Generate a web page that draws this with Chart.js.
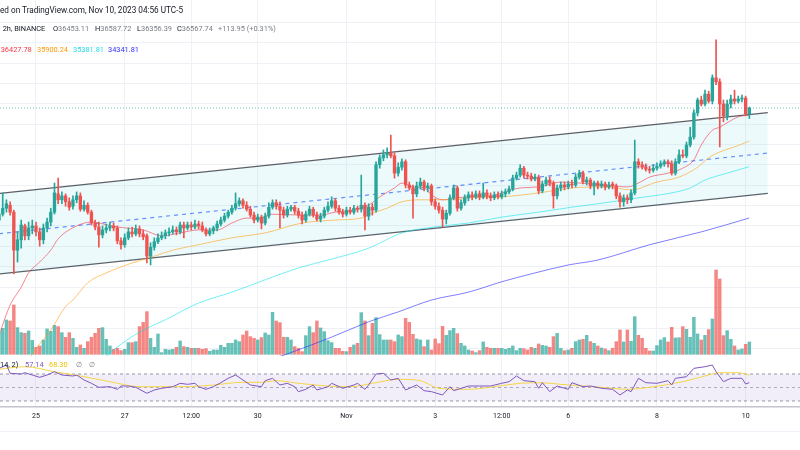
<!DOCTYPE html>
<html>
<head>
<meta charset="utf-8">
<script src="https://cdn.jsdelivr.net/npm/chart.js@4.4.0/dist/chart.umd.min.js"></script>
<style>
  body { margin: 0; background: #fff; width: 800px; height: 450px; overflow: hidden; position: relative; font-family: Roboto, sans-serif; }
  canvas { position: absolute; left: 0; }
  .t { position: absolute; white-space: nowrap; line-height: 1; color: #131722; font-size: 7.4px; }
  .v { color: #7a7d87; }
  .hr { position: absolute; left: 0; width: 800px; height: 1px; background: #f0f3fa; }
</style>
</head>
<body>
<canvas id="main" width="800" height="356" style="top:0"></canvas>
<canvas id="rsi" width="800" height="94" style="top:356px"></canvas>
<div class="hr" style="top:431px"></div>

<div class="t" style="left:0;top:6px;font-size:8.2px">ed on TradingView.com, Nov 10, 2023 04:56 UTC-5</div>
<div class="t" style="left:2.7px;top:24.7px">2h, BINANCE</div>
<div class="t" style="left:53px;top:24.7px">O<span class="v">36453.11</span></div>
<div class="t" style="left:95px;top:24.7px">H<span class="v">36587.72</span></div>
<div class="t" style="left:137px;top:24.7px">L<span class="v">36356.39</span></div>
<div class="t" style="left:177px;top:24.7px">C<span class="v">36567.74</span></div>
<div class="t v" style="left:218px;top:24.7px">+113.95 (+0.31%)</div>
<div class="t" style="left:0.7px;top:46.4px;color:#f23645">36427.78</div>
<div class="t" style="left:37px;top:46.4px;color:#ff9800">35900.24</div>
<div class="t" style="left:73px;top:46.4px;color:#22dbe6">35381.81</div>
<div class="t" style="left:108px;top:46.4px;color:#2e2eff">34341.81</div>
<div class="t" style="left:0;top:361.4px">14, 2)</div>
<div class="t" style="left:25px;top:361.4px;color:#7e57c2">57.14</div>
<div class="t" style="left:49px;top:361.4px;color:#f2c200">68.30</div>
<div class="t v" style="left:76px;top:361.4px">∅</div>
<div class="t v" style="left:89px;top:361.4px">∅</div>

<script>
// BTCUSDT 2h candles, Oct 24 -> Nov 10 2023
const opens = [34300,34420,34540,34600,34460,33690,33900,34180,33980,34140,
  34180,34060,33900,34140,34260,34460,34830,34710,34790,34670,
  34580,34710,34790,34520,34600,34460,34240,34160,34000,34100,
  34140,34180,34140,33880,33800,33940,34060,34020,34120,34020,
  33980,33570,33750,33860,33940,33980,34040,34060,34100,34060,
  34200,34140,34200,34160,34220,34180,34100,34020,34080,34140,
  34220,34300,34380,34460,34540,34630,34690,34600,34520,34400,
  34300,34360,34240,34380,34560,34650,34580,34500,34400,34520,
  34560,34480,34400,34300,34420,34520,34400,34320,34380,34500,
  34580,34690,34540,34460,34420,34500,34460,34540,34520,34600,
  34380,34560,34500,35420,35560,35620,35660,35600,35250,35370,
  35480,35010,34950,34830,34990,35070,34950,34990,34670,34580,
  34500,34320,34440,34750,34950,34540,34650,34750,34810,34770,
  34830,34770,34850,34790,34750,34810,34770,34830,34870,34930,
  35150,35210,35350,35210,35190,35130,35170,34890,35030,35110,
  35050,34790,34950,35010,34970,35030,35010,35170,35250,35070,
  35110,34990,35050,34990,35030,34970,35030,34990,34790,34670,
  34750,34710,34850,35480,35420,35370,35330,35310,35350,35390,
  35440,35480,35440,35250,35480,35620,35600,35820,35980,36470,
  36730,36650,36850,36710,37180,37100,36650,36410,36650,36750,
  36710,36750,36770,36453.11];
const highs = [34500,34850,34710,34670,34500,34060,34300,34220,34260,34300,
  34260,34140,34220,34340,34540,35050,35150,34870,34830,34750,
  34790,34870,34850,34690,34650,34500,34300,34260,34180,34220,
  34260,34240,34180,33940,34020,34140,34160,34200,34180,34100,
  34020,33840,33940,34020,34060,34100,34140,34180,34160,34260,
  34260,34260,34260,34300,34280,34260,34140,34140,34180,34280,
  34360,34440,34500,34600,34850,34750,34730,34670,34580,34460,
  34420,34400,34440,34650,34710,34710,34670,34560,34580,34600,
  34600,34540,34460,34480,34580,34560,34460,34440,34560,34670,
  34770,34730,34600,34520,34560,34560,34600,34580,35210,34650,
  34630,34630,35480,35620,35720,35760,36020,35660,35460,35540,
  35520,35070,35010,35070,35150,35110,35050,35030,34730,34650,
  34560,34500,34810,35010,34990,34710,34810,34870,34870,34890,
  34890,35050,34910,34850,34870,34870,34890,34930,34990,35210,
  35270,35420,35390,35270,35250,35230,35210,35090,35170,35170,
  35090,35010,35070,35070,35090,35110,35230,35310,35290,35170,
  35150,35090,35090,35090,35070,35070,35070,35030,34850,34810,
  34810,34910,35920,35540,35480,35440,35390,35420,35460,35500,
  35520,35520,35500,35540,35720,35720,35880,36180,36530,36770,
  36810,36930,36910,37240,37950,37160,36730,36730,36830,36930,
  36810,36830,36810,36587.72];
const lows = [34220,34380,34460,34400,33210,33450,33730,33900,33900,34020,
  33980,33770,33820,34060,34180,34420,34630,34630,34580,34500,
  34520,34650,34480,34480,34420,34200,34100,33750,33940,34040,
  34080,34080,33820,33710,33750,33900,33960,33980,33960,33900,
  33430,33390,33690,33820,33900,33920,33980,34020,34000,34020,
  33940,34100,34100,34120,34120,34060,33980,33980,34020,34080,
  34180,34260,34340,34420,34500,34580,34540,34480,34360,34240,
  34260,34120,34200,34340,34520,34520,34140,34340,34360,34480,
  34420,34340,34220,34260,34380,34360,34280,34260,34340,34460,
  34540,34480,34420,34360,34380,34420,34420,34460,34460,34100,
  34300,34400,34460,35350,35500,35560,35560,35150,35190,35310,
  34950,34910,34340,34770,34930,34890,34870,34600,34520,34440,
  34160,34220,34400,34710,34480,34500,34600,34690,34710,34730,
  34710,34730,34730,34690,34710,34730,34730,34770,34830,34890,
  35110,35170,35150,35130,35090,35090,34830,34850,34990,34990,
  34540,34730,34890,34910,34930,34950,34970,35130,35030,35010,
  34930,34810,34930,34950,34910,34930,34930,34730,34560,34580,
  34630,34650,34810,35350,35330,35290,35250,35270,35310,35350,
  35390,35370,35210,35210,35440,35560,35560,35780,35940,36410,
  36610,36610,36670,36650,37040,35780,36290,36330,36570,36650,
  36670,36690,36410,36356.39];
const closes = [34420,34540,34630,34460,33690,33900,34200,33980,34140,34180,
  34060,33900,34140,34260,34460,34850,34710,34790,34670,34560,
  34710,34790,34520,34600,34460,34240,34160,34000,34100,34140,
  34180,34140,33880,33800,33940,34060,34020,34120,34020,33960,
  33570,33750,33860,33940,33980,34040,34060,34100,34060,34200,
  34140,34200,34160,34220,34180,34100,34020,34080,34140,34220,
  34300,34380,34460,34540,34630,34690,34600,34520,34400,34300,
  34360,34240,34380,34560,34650,34580,34500,34400,34520,34560,
  34480,34400,34300,34420,34520,34400,34320,34380,34500,34580,
  34690,34540,34460,34420,34500,34460,34540,34520,34600,34380,
  34560,34500,35420,35560,35620,35660,35600,35250,35370,35480,
  35010,34950,34830,34990,35070,34950,34990,34670,34580,34500,
  34320,34440,34750,34950,34540,34650,34750,34810,34770,34830,
  34770,34850,34790,34750,34810,34770,34830,34870,34930,35150,
  35210,35350,35210,35190,35130,35170,34890,35030,35110,35050,
  34790,34950,35010,34970,35030,35010,35170,35250,35070,35110,
  34990,35050,34990,35030,34970,35010,34990,34790,34670,34750,
  34710,34850,35480,35420,35370,35330,35310,35350,35390,35440,
  35480,35440,35250,35480,35620,35600,35820,35980,36470,36730,
  36650,36850,36710,37180,37100,36650,36410,36650,36750,36710,
  36750,36770,36450,36567.74];
const volumes = [6500,7800,10300,10000,14800,8000,6500,6300,7000,4200,
  2100,2500,4300,7600,6900,8700,8300,6500,5100,6500,
  4800,2100,2800,1800,3800,5100,6300,7800,8000,4500,
  2500,1500,1800,1100,1500,3500,3500,3800,8300,9600,
  12800,4800,2100,6100,500,1500,1300,1500,2100,4000,
  2300,2100,1800,1800,1800,1500,1700,900,1300,1300,
  2700,2100,3300,3300,4300,3800,5800,7000,5300,4800,
  4300,5000,6400,5800,12600,10000,9500,5100,5100,4300,
  2300,1800,800,5600,8300,6500,10000,7900,6800,4100,
  3500,1800,1800,900,800,2100,2800,3300,12500,10000,
  5600,9300,11000,5900,4300,4300,4300,3800,5800,5300,
  10800,9600,6000,4600,4300,2300,4300,1300,4600,3200,
  8400,5700,7100,7800,6200,3300,2500,1300,1000,500,
  1100,3700,2100,1800,1800,1800,1800,1500,1800,2500,
  1100,1800,1700,1300,2100,1800,3100,2700,2500,2100,
  5300,6300,1800,1100,1300,1800,3800,4300,4500,5700,
  3800,3300,2500,1900,1600,1100,1800,3800,7300,3700,
  7300,3900,11300,5700,4800,1800,1000,1000,2600,4300,
  5000,3700,8100,4900,5000,8300,7500,5100,11100,6100,
  4300,5700,7400,10600,25300,22600,5600,7100,4500,2500,
  1300,1600,3000,3700];

// moving averages, [candle index, price]
const ema20 = [[0,31970],[3,32580],[6,32940],[8,33230],[11,33450],[14,33690],[16,33920],[21,34180],
  [25,34260],[27,34240],[32,34160],[39,34100],[44,33980],[49,34040],[54,34100],[59,34100],[63,34240],
  [67,34340],[71,34330],[73,34420],[82,34400],[87,34400],[91,34460],[96,34500],[100,34600],[103,34770],
  [107,34950],[109,35050],[112,34970],[115,34950],[117,34810],[120,34710],[124,34750],[127,34770],
  [132,34770],[136,34850],[141,34950],[146,34970],[152,35070],[157,35050],[164,35010],[170,34970],
  [173,35050],[176,35170],[181,35250],[185,35350],[188,35520],[190,35820],[193,36120],[195,36180],
  [197,36270],[200,36390],[203,36427.78]];
const ema50 = [[6,31160],[9,31590],[14,32070],[18,32550],[20,32680],[24,33030],[29,33230],[36,33430],
  [42,33570],[47,33690],[54,33800],[63,33940],[72,34040],[82,34240],[91,34300],[98,34340],[101,34440],
  [105,34540],[109,34670],[114,34710],[123,34710],[127,34750],[136,34770],[146,34850],[155,34950],
  [164,34970],[171,34910],[178,35070],[184,35170],[189,35370],[192,35560],[195,35680],[199,35780],
  [203,35900.24]];
const ema100 = [[25,31260],[31,31670],[38,32030],[45,32280],[54,32620],[63,32840],[72,33090],[81,33330],
  [89,33490],[100,33730],[109,34040],[118,34160],[127,34240],[136,34360],[146,34460],[155,34560],
  [164,34650],[173,34750],[182,34850],[187,34950],[191,35110],[197,35250],[203,35381.81]];
const ema200 = [[65,31260],[78,31590],[90,31930],[100,32240],[108,32440],[117,32680],[127,32840],
  [136,33050],[144,33210],[154,33390],[162,33490],[176,33800],[190,34060],[203,34341.81]];

// drawn channel, [start index, end index] and prices
const channelAt = [0, 208];
const channelTop = [34840, 36474];
const channelBottom = [33206, 34840];
const channelMid = [34023, 35657];

// RSI pane, [candle index, value]
const rsi = [[0,78.4],[2,83.3],[3,71.0],[6,70.0],[7,71.9],[9,68.5],[11,65.1],[13,68.5],[15,73.4],[17,68.5],
  [20,67.0],[21,68.5],[23,61.1],[25,56.2],[27,50.3],[30,51.2],[32,47.3],[33,52.2],[35,52.2],[37,50.3],
  [40,41.4],[42,46.3],[44,48.8],[47,51.2],[49,56.2],[51,54.7],[53,56.2],[54,51.2],[56,47.3],[58,51.2],
  [60,57.1],[62,63.6],[64,68.5],[66,61.1],[68,53.7],[71,51.2],[72,60.1],[74,63.6],[76,53.7],[78,56.2],
  [80,51.2],[81,43.8],[83,47.3],[85,53.7],[86,46.3],[89,51.2],[90,56.2],[93,48.8],[96,53.7],[97,56.2],
  [99,47.3],[100,53.7],[102,70.0],[104,71.0],[106,61.1],[108,63.6],[110,46.3],[113,53.7],[115,45.3],
  [117,43.8],[120,38.9],[122,51.2],[123,45.3],[127,52.2],[130,52.2],[133,52.2],[136,56.2],[138,58.6],
  [140,67.0],[142,60.1],[145,58.6],[146,48.8],[147,57.1],[149,43.8],[151,52.2],[154,47.3],[155,57.1],
  [158,51.2],[160,52.2],[163,48.8],[166,47.3],[168,38.9],[170,46.3],[171,43.8],[173,63.6],[175,57.1],
  [178,56.2],[181,60.1],[182,53.7],[183,63.6],[186,66.0],[188,78.4],[191,80.8],[193,83.3],[194,73.4],
  [196,58.6],[198,63.6],[201,63.6],[202,55.2],[203,57.14]];
const rsiMa = [[0,77.0],[7,80.8],[15,73.4],[23,66.0],[30,58.6],[38,51.2],[50,51.2],[58,53.7],[66,57.7],
  [71,57.7],[75,60.1],[81,56.2],[89,52.2],[95,51.2],[101,56.2],[108,62.1],[114,60.1],[119,48.8],
  [127,47.3],[134,51.2],[141,56.2],[146,57.1],[154,53.7],[161,51.2],[170,47.3],[176,50.3],[185,58.6],
  [192,68.5],[195,71.9],[200,71.9],[203,68.30]];
const rsiLevels = [70, 50, 30];

// axis ticks
const tickPos = [10, 34, 52, 70, 94, 118, 136, 154, 178, 202];
const tickLabels = ['25', '27', '12:00', '30', 'Nov', '3', '12:00', '6', '8', '10'];
const gridPrices = [31700,32110,32520,32940,33350,33760,34180,34590,35000,35420,35830,36240,36660,37070,37480,37900,38310];

const xMin = 0.26, xMax = 216.71;
const N = closes.length;
const GRID = '#eef1f6';
const UP = '#26a69a', DOWN = '#ef5350';
const VOL_UP = 'rgba(38,166,154,0.7)', VOL_DOWN = 'rgba(239,83,80,0.7)';

Chart.defaults.font.family = 'Roboto';

const isUp = i => closes[i] >= opens[i];
const pts = arr => arr.map(([x, y]) => ({ x, y }));
const flat = v => [{ x: xMin, y: v }, { x: xMax, y: v }];
const seg = vals => channelAt.map((x, k) => ({ x, y: vals[k] }));
const candleColor = c => isUp(c.dataIndex) ? UP : DOWN;
const lineDs = (label, data, color, order, extra) => Object.assign({
  type: 'line', label, data, borderColor: color, borderWidth: 1, pointRadius: 0,
  fill: false, yAxisID: 'y', order
}, extra || {});
const setTicks = list => axis => { axis.ticks = list.map(v => ({ value: v })); };

new Chart(document.getElementById('main'), {
  type: 'bar',
  data: {
    datasets: [
      { label: 'Volume', data: volumes.map((v, i) => ({ x: i, y: v })), yAxisID: 'yv',
        backgroundColor: c => isUp(c.dataIndex) ? VOL_UP : VOL_DOWN,
        barThickness: 2.8, grouped: false, order: 10 },
      lineDs('Channel top', seg(channelTop), 'rgba(40,43,52,0.75)', 9,
        { borderWidth: 1.2, fill: '+1', backgroundColor: 'rgba(0,188,212,0.07)' }),
      lineDs('Channel bottom', seg(channelBottom), 'rgba(40,43,52,0.75)', 9, { borderWidth: 1.2 }),
      lineDs('Channel mid', seg(channelMid), 'rgba(41,98,255,0.7)', 8, { borderWidth: 1.2, borderDash: [4, 4] }),
      lineDs('Last', flat(closes[N - 1]), 'rgba(38,166,154,0.7)', 7, { borderDash: [1, 2] }),
      lineDs('EMA 200', pts(ema200), 'rgba(41,41,255,0.6)', 6, { cubicInterpolationMode: 'monotone' }),
      lineDs('EMA 100', pts(ema100), 'rgba(0,225,235,0.55)', 6, { cubicInterpolationMode: 'monotone' }),
      lineDs('EMA 50', pts(ema50), 'rgba(255,152,0,0.55)', 6, { cubicInterpolationMode: 'monotone' }),
      lineDs('EMA 20', pts(ema20), 'rgba(242,54,69,0.6)', 6, { cubicInterpolationMode: 'monotone' }),
      { label: 'Wicks', data: lows.map((l, i) => ({ x: i, y: [l, highs[i]] })), yAxisID: 'y',
        backgroundColor: candleColor, barThickness: 1, grouped: false, order: 2 },
      { label: 'Bodies', data: opens.map((o, i) => ({ x: i, y: [o, closes[i]] })), yAxisID: 'y',
        backgroundColor: candleColor, barThickness: 2.7, minBarLength: 1, grouped: false, order: 1 }
    ]
  },
  options: {
    responsive: false, animation: false, events: [],
    layout: { padding: 0 },
    plugins: { legend: { display: false }, tooltip: { enabled: false } },
    scales: {
      x: { type: 'linear', min: xMin, max: xMax, offset: false,
        grid: { color: GRID, drawTicks: false, offset: false }, border: { display: false },
        ticks: { display: false }, afterBuildTicks: setTicks(tickPos) },
      y: { type: 'linear', position: 'right', min: 31547, max: 38756,
        grid: { color: GRID, drawTicks: false }, border: { display: false },
        ticks: { display: false }, afterBuildTicks: setTicks(gridPrices) },
      yv: { type: 'linear', min: -510, max: 106290, display: false }
    }
  }
});

new Chart(document.getElementById('rsi'), {
  type: 'line',
  data: {
    datasets: [
      lineDs('70', flat(rsiLevels[0]), '#9598a1', 3,
        { borderDash: [3, 3], fill: '+1', backgroundColor: 'rgba(126,87,194,0.1)' }),
      lineDs('30', flat(rsiLevels[2]), '#9598a1', 3, { borderDash: [3, 3] }),
      lineDs('50', flat(rsiLevels[1]), '#b2b5be', 3, { borderDash: [3, 3] }),
      lineDs('RSI MA', pts(rsiMa), '#f5d547', 1, { cubicInterpolationMode: 'monotone' }),
      lineDs('RSI', pts(rsi), '#7e57c2', 0, { tension: 0 })
    ]
  },
  options: {
    responsive: false, animation: false, events: [],
    layout: { padding: { left: 0, right: 0, top: 0, bottom: 23.6 } },
    plugins: { legend: { display: false }, tooltip: { enabled: false } },
    scales: {
      x: { type: 'linear', min: xMin, max: xMax, offset: false,
        grid: { color: GRID, drawTicks: false, offset: false },
        border: { display: true, color: '#c1c4cc', width: 1.5 },
        ticks: { autoSkip: false, maxRotation: 0, padding: 5.5, color: '#131722',
          font: { size: 7 }, callback: (v, i) => tickLabels[i] },
        afterBuildTicks: setTicks(tickPos) },
      y: { type: 'linear', min: 21.1, max: 96.67, display: false }
    }
  }
});
</script>
</body>
</html>
